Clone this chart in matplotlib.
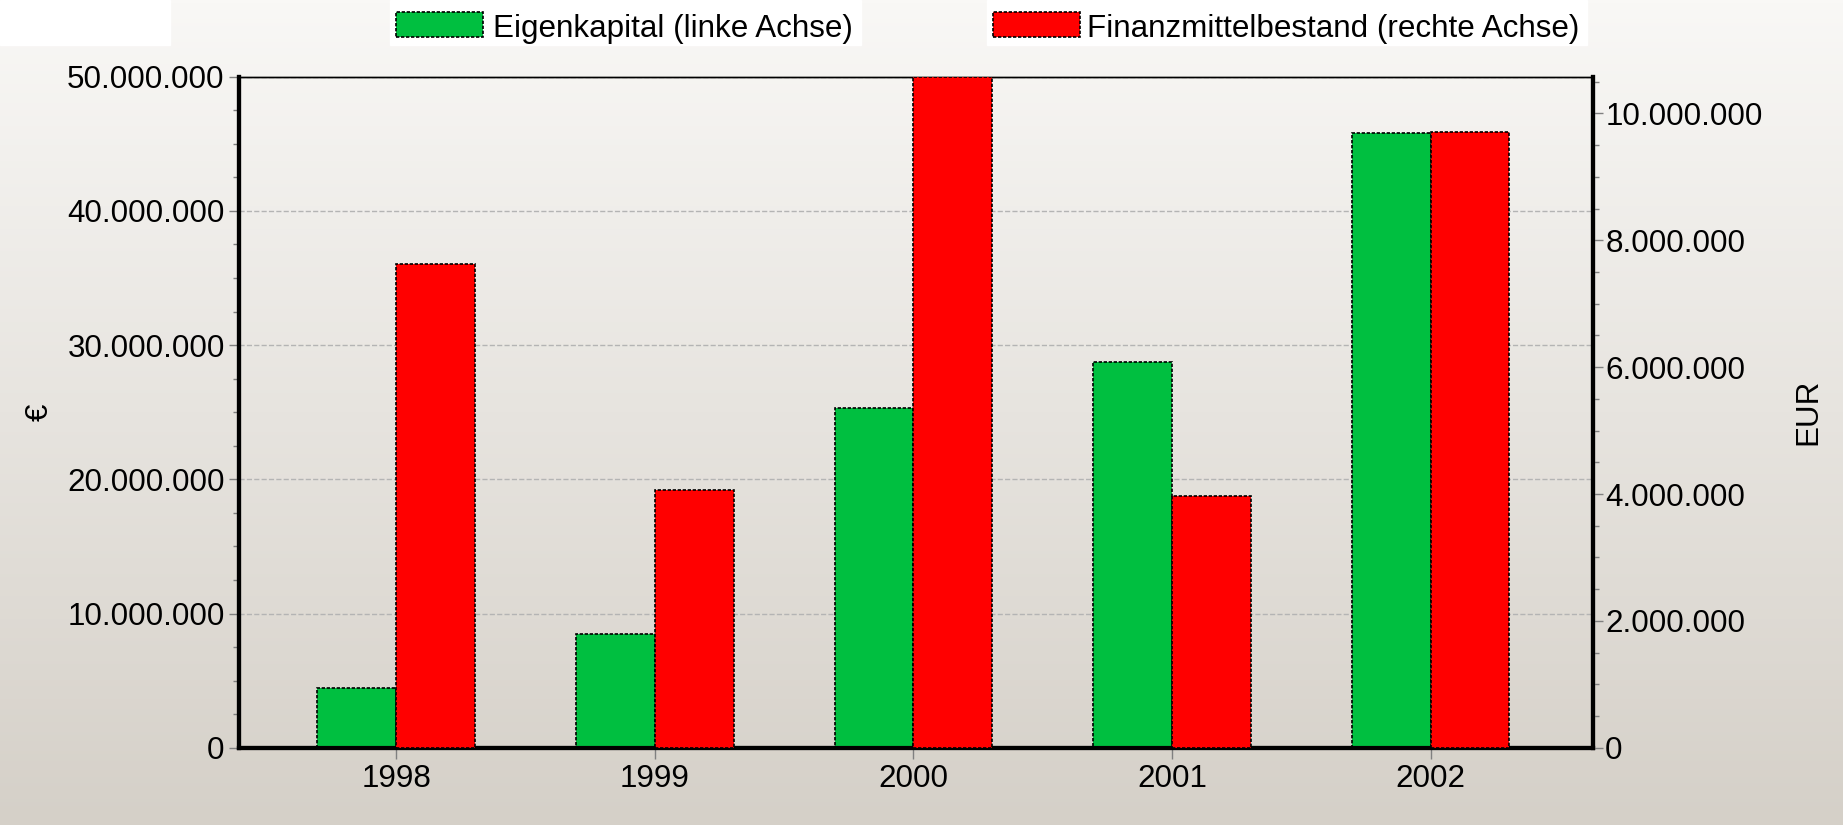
import numpy as np
import matplotlib
matplotlib.use("Agg")
import matplotlib.pyplot as plt
from matplotlib.ticker import FuncFormatter, MultipleLocator
from matplotlib.patches import Rectangle

# data
years = ["1998", "1999", "2000", "2001", "2002"]
eigenkapital = [4.48e6, 8.5e6, 25.3e6, 28.75e6, 45.8e6]        # left axis, €
finanzmittel = [7.62e6, 4.06e6, 10.58e6, 3.97e6, 9.71e6]       # right axis, EUR
legend_labels = ["Eigenkapital (linke Achse)", "Finanzmittelbestand (rechte Achse)"]

plt.rcParams["font.family"] = ["Liberation Sans", "DejaVu Sans"]
FS = 22.6

W, H = 1843, 825
fig = plt.figure(figsize=(W / 100, H / 100), dpi=100)

# background gradient over the whole figure
bg = fig.add_axes([0, 0, 1, 1], zorder=-10)
grad = np.linspace(0, 1, 256).reshape(-1, 1)
top = np.array([249, 248, 246]) / 255
bot = np.array([213, 208, 200]) / 255
img = top + (bot - top) * grad[..., None]
bg.imshow(img, aspect="auto", extent=[0, 1, 0, 1])
bg.set_xlim(0, 1)
bg.set_ylim(0, 1)
bg.axis("off")

# white box at the top left
bg.add_patch(Rectangle((0, 1 - 45 / H), 170 / W, 45 / H, color="white", transform=fig.transFigure))

left, right, topy, bottom = 238.6, 1592.7, 76.7, 747.7
ax = fig.add_axes([left / W, 1 - bottom / H, (right - left) / W, (bottom - topy) / H])
ax.set_facecolor("none")
ax2 = ax.twinx()

x = np.arange(len(years))
w = 0.305
edge = dict(edgecolor="black", linewidth=1.2, linestyle=(0, (2, 1)))
ax.bar(x - w / 2, eigenkapital, w, color="#00BF40", zorder=3, **edge)
ax2.bar(x + w / 2, finanzmittel, w, color="#FF0000", zorder=3, **edge)

ax.set_xlim(-0.61, 4.627)
ax.set_ylim(0, 50e6)
ax2.set_ylim(0, 10.58e6)

fmt = FuncFormatter(lambda v, p: f"{int(round(v)):,}".replace(",", "."))
ax.yaxis.set_major_locator(MultipleLocator(10e6))
ax.yaxis.set_minor_locator(MultipleLocator(2.5e6))
ax2.yaxis.set_major_locator(MultipleLocator(2e6))
ax2.yaxis.set_minor_locator(MultipleLocator(0.5e6))
ax.yaxis.set_major_formatter(fmt)
ax2.yaxis.set_major_formatter(fmt)
ax.set_xticks(x)
ax.set_xticklabels(years)

ax.grid(axis="y", which="major", color="#b4b4b4", linestyle="--", linewidth=1, zorder=0)
ax.set_axisbelow(True)

for a in (ax, ax2):
    a.tick_params(which="both", direction="out", color="#808080", width=1, labelsize=FS)
    a.tick_params(which="major", length=7, pad=3)
    a.tick_params(which="minor", length=4)
    for s in ("left", "right", "bottom"):
        a.spines[s].set_linewidth(3)
        a.spines[s].set_color("black")
    a.spines["top"].set_linewidth(1)
    a.spines["top"].set_linestyle((0, (2, 1)))
ax2.tick_params(which="major", pad=2)
ax.tick_params(axis="x", length=8, pad=4)

ax.set_ylabel("€", fontsize=FS, labelpad=9)
ax2.set_ylabel("EUR", fontsize=FS, labelpad=22)

# legend drawn at the top
colors = ["#00BF40", "#FF0000"]
patch_x = [396, 993]
text_x = [493, 1087]
fig.canvas.draw()
for px, tx, c, lab in zip(patch_x, text_x, colors, legend_labels):
    t = fig.text(tx / W, 1 - 37.3 / H, lab, fontsize=FS, va="baseline", ha="left")
    fig.patches.append(Rectangle((px / W, 1 - 37.3 / H), 87 / W, 25.6 / H, transform=fig.transFigure,
                                 facecolor=c, edgecolor="black", linewidth=1.2, linestyle=(0, (2, 1))))
    bb = t.get_window_extent(renderer=fig.canvas.get_renderer())
    bg.add_patch(Rectangle(((px - 6) / W, 1 - 45 / H), (bb.x1 - px + 14) / W, 45 / H,
                           color="white", transform=fig.transFigure, zorder=1))

fig.savefig("out.png", dpi=100)
